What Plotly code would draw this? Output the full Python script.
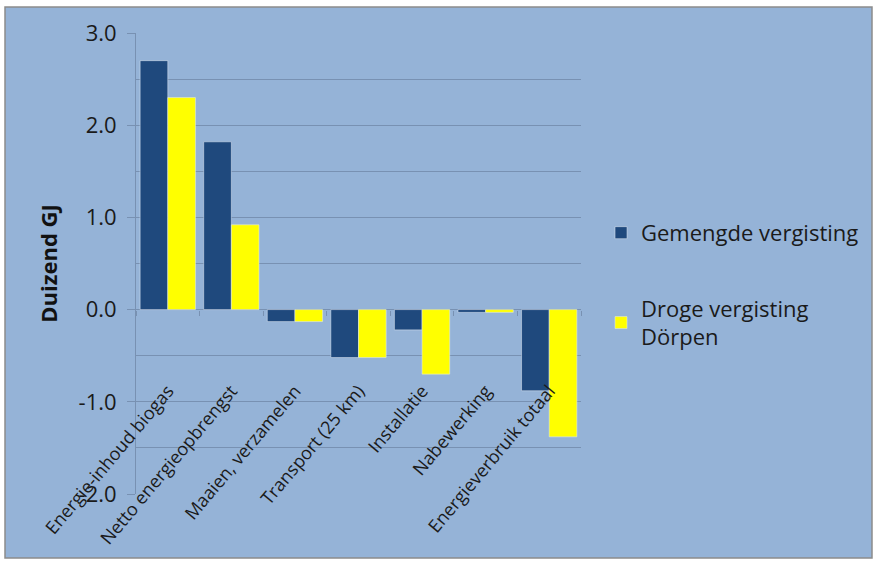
import plotly.graph_objects as go

categories = ["Energie-inhoud biogas", "Netto energieopbrengst", "Maaien, verzamelen",
              "Transport (25 km)", "Installatie", "Nabewerking", "Energieverbruik totaal"]
gemengde = [2.70, 1.82, -0.13, -0.52, -0.22, -0.03, -0.88]
droge = [2.30, 0.92, -0.13, -0.52, -0.70, -0.03, -1.38]
series_names = ["Gemengde vergisting", "Droge vergisting<br>Dörpen"]
y_ticks = [-2.0, -1.0, 0.0, 1.0, 2.0, 3.0]
y_ticktext = ["-2.0", "-1.0", "0.0", "1.0", "2.0", "3.0"]

BG = "#95B3D7"
GRID = "#7891B2"
FONT = "'Open Sans', sans-serif"
TXT = "#1a1a1a"

fig = go.Figure()
fig.add_trace(go.Bar(x=categories, y=gemengde, name=series_names[0],
                     marker_color="#1F497D", legendgroup="a"))
fig.add_trace(go.Bar(x=categories, y=droge, name=series_names[1],
                     marker_color="#FFFF00", legendgroup="b"))
# invisible helper trace so the zero-line category axis draws its boundary ticks
fig.add_trace(go.Scatter(x=categories, y=gemengde, mode="markers", xaxis="x2",
                         marker=dict(opacity=0), showlegend=False, hoverinfo="skip"))

W, H = 878, 565
L, R, T, B = 136, 297, 33, 71
plot_w = W - L - R
plot_h = H - T - B
ymin, ymax = -2.0, 3.0
lab_val = -0.72
pos = (lab_val - ymin) / (ymax - ymin)
zero_pos = (0 - ymin) / (ymax - ymin)

fig.update_layout(
    width=W, height=H,
    margin=dict(l=L, r=R, t=T, b=B),
    paper_bgcolor="white",
    plot_bgcolor="rgba(0,0,0,0)",
    barmode="group", bargap=0.13, bargroupgap=0,
    font=dict(family=FONT, color=TXT),
    showlegend=True,
    legend=dict(x=1.045, y=0.612, xanchor="left", yanchor="top",
                bgcolor="rgba(0,0,0,0)", font=dict(size=22, family=FONT, color=TXT),
                traceorder="grouped", tracegroupgap=44, itemwidth=30),
    xaxis=dict(anchor="free", position=pos, showline=False, showgrid=False,
               zeroline=False, ticks="", tickangle=-50, range=[-0.5, 6.5],
               tickfont=dict(size=18, family=FONT, color=TXT)),
    xaxis2=dict(overlaying="x", anchor="free", position=zero_pos, side="bottom",
                showline=False, showgrid=False, zeroline=False,
                ticks="outside", ticklen=5, tickcolor=GRID, tickson="boundaries",
                showticklabels=False, range=[-0.5, 6.5]),
    yaxis=dict(range=[ymin, ymax], tickvals=y_ticks, ticktext=y_ticktext,
               tickfont=dict(size=22, family=FONT, color=TXT),
               ticklabelstandoff=6,
               showgrid=True, gridcolor=GRID, gridwidth=1,
               zeroline=True, zerolinecolor=GRID, zerolinewidth=1,
               showline=True, linecolor=GRID, linewidth=1,
               ticks="outside", ticklen=8, tickcolor=GRID,
               minor=dict(dtick=0.5, showgrid=True, gridcolor=GRID, gridwidth=1),
               title=dict(text="<b>Duizend GJ</b>", font=dict(size=22, family=FONT, color="#111"),
                          standoff=14)),
    shapes=[dict(type="rect", xref="paper", yref="paper", layer="below",
                 x0=(5 - L) / plot_w, x1=(872 - L) / plot_w,
                 y0=(H - B - 558) / plot_h, y1=(H - B - 7) / plot_h,
                 fillcolor=BG, line=dict(color="#8C8C8C", width=1.5))],
)

fig.write_html("out.html", config={"displayModeBar": False},
               post_script="document.body.style.margin='0px';")
